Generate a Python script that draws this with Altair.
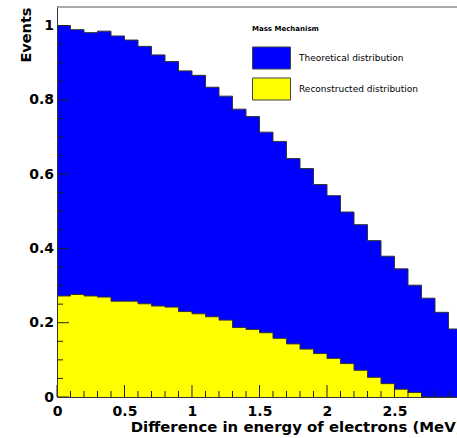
import altair as alt
import pandas as pd

# Bin left edges (MeV), bin width 0.1
bin_left = [0.0, 0.1, 0.2, 0.3, 0.4, 0.5, 0.6, 0.7, 0.8, 0.9,
            1.0, 1.1, 1.2, 1.3, 1.4, 1.5, 1.6, 1.7, 1.8, 1.9,
            2.0, 2.1, 2.2, 2.3, 2.4, 2.5, 2.6, 2.7, 2.8, 2.9]
bin_end = 3.0

theoretical = [1.000, 0.989, 0.981, 0.985, 0.972, 0.961, 0.944, 0.921, 0.903, 0.878,
               0.866, 0.834, 0.810, 0.775, 0.755, 0.713, 0.688, 0.642, 0.615, 0.572,
               0.542, 0.498, 0.464, 0.421, 0.379, 0.345, 0.301, 0.266, 0.228, 0.183]
reconstructed = [0.272, 0.276, 0.272, 0.269, 0.258, 0.258, 0.251, 0.245, 0.242, 0.230,
                 0.224, 0.216, 0.207, 0.187, 0.182, 0.173, 0.158, 0.143, 0.129, 0.117,
                 0.104, 0.090, 0.072, 0.053, 0.036, 0.021, 0.012, 0.0, 0.0, 0.0]

series_names = ["Theoretical distribution", "Reconstructed distribution"]
series_colors = ["#0000ff", "#ffff00"]

x_labels = [0, 0.5, 1, 1.5, 2, 2.5]
x_minor = [0.1, 0.2, 0.3, 0.4, 0.6, 0.7, 0.8, 0.9, 1.1, 1.2, 1.3, 1.4, 1.6, 1.7, 1.8, 1.9,
           2.1, 2.2, 2.3, 2.4, 2.6, 2.7, 2.8, 2.9]
y_labels = [0, 0.2, 0.4, 0.6, 0.8, 1.0]
y_minor = [0.05, 0.1, 0.15, 0.25, 0.3, 0.35, 0.45, 0.5, 0.55, 0.65, 0.7, 0.75, 0.85, 0.9, 0.95]

W, H = 400, 390
FONT = "DejaVu Sans"


def hist_df(vals, name):
    return pd.DataFrame({"x": bin_left + [bin_end], "v": vals + [vals[-1]], "series": name})


df_t = hist_df(theoretical, series_names[0])
df_r = hist_df(reconstructed, series_names[1])

xscale = alt.Scale(domain=[0, 2.963], nice=False, zero=False)
yscale = alt.Scale(domain=[0, 1.05], nice=False)
cscale = alt.Scale(domain=series_names, range=series_colors)

xaxis = alt.Axis(values=x_labels, format="~g", ticks=False, grid=False, labelFlush=False,
                 labelOverlap=False, labelFont=FONT, labelFontSize=14, labelFontWeight="bold",
                 labelColor="black", labelPadding=7.5, domainColor="#333", domainWidth=1,
                 title="Difference in energy of electrons (MeV)", titleFont=FONT,
                 titleFontSize=14.9, titleFontWeight="bold", titleColor="black",
                 titleX=405, titleY=34, titleAlign="right", titleBaseline="alphabetic",
                 zindex=1)
yaxis = alt.Axis(values=y_labels, format="~g", ticks=False, grid=False, labelOverlap=False,
                 labelFont=FONT, labelFontSize=14, labelFontWeight="bold", labelColor="black",
                 labelPadding=3.5, domainColor="#333", domainWidth=1,
                 title="Events", titleFont=FONT, titleFontSize=14.5, titleFontWeight="bold",
                 titleColor="black", titleAngle=270, titleX=-27, titleY=0, titleAlign="right",
                 titleBaseline="alphabetic", zindex=1)

legend = alt.Legend(title="Mass Mechanism", orient="none", legendX=195, legendY=18,
                    padding=0, titleFont=FONT, titleFontSize=7, titleFontWeight="bold",
                    titleColor="black", titlePadding=16, labelFont=FONT, labelFontSize=9,
                    labelColor="black", labelOffset=27, symbolType="M-1,-1.16H3V1.16H-1Z",
                    symbolSize=361, symbolStrokeColor="#444", symbolStrokeWidth=1,
                    symbolOpacity=1, rowPadding=3)

area_t = alt.Chart(df_t).mark_area(interpolate="step-after", opacity=1, clip=True).encode(
    x=alt.X("x:Q", scale=xscale, axis=xaxis),
    y=alt.Y("v:Q", scale=yscale, axis=yaxis),
    color=alt.Color("series:N", scale=cscale, legend=legend),
)
line_t = alt.Chart(df_t).mark_line(interpolate="step-after", color="#333", strokeWidth=1, clip=True).encode(
    x=alt.X("x:Q", scale=xscale),
    y=alt.Y("v:Q", scale=yscale),
)
area_r = alt.Chart(df_r).mark_area(interpolate="step-after", opacity=1, clip=True).encode(
    x=alt.X("x:Q", scale=xscale),
    y=alt.Y("v:Q", scale=yscale),
    color=alt.Color("series:N", scale=cscale, legend=legend),
)
line_r = alt.Chart(df_r).mark_line(interpolate="step-after", color="#333", strokeWidth=1, clip=True).encode(
    x=alt.X("x:Q", scale=xscale),
    y=alt.Y("v:Q", scale=yscale),
)

ytick_major = alt.Chart(pd.DataFrame({"t": y_labels})).mark_rule(color="#222", strokeWidth=1).encode(
    y=alt.Y("t:Q", scale=yscale), x=alt.value(0), x2=alt.value(12))
ytick_minor = alt.Chart(pd.DataFrame({"t": y_minor})).mark_rule(color="#222", strokeWidth=1).encode(
    y=alt.Y("t:Q", scale=yscale), x=alt.value(0), x2=alt.value(6))
xtick_major = alt.Chart(pd.DataFrame({"t": x_labels})).mark_rule(color="#222", strokeWidth=1).encode(
    x=alt.X("t:Q", scale=xscale), y=alt.value(H), y2=alt.value(H - 12))
xtick_minor = alt.Chart(pd.DataFrame({"t": x_minor})).mark_rule(color="#222", strokeWidth=1).encode(
    x=alt.X("t:Q", scale=xscale), y=alt.value(H), y2=alt.value(H - 6))
top_frame = alt.Chart(pd.DataFrame({"t": [0]})).mark_rule(color="#555", strokeWidth=1).encode(
    x=alt.value(0), x2=alt.value(W), y=alt.value(0))

chart = alt.layer(area_t, area_r, line_t, line_r, ytick_major, ytick_minor,
                  xtick_major, xtick_minor, top_frame).properties(
    width=W, height=H, autosize="none",
    padding={"left": 57, "top": 7, "right": 0, "bottom": 41},
    background="white",
).configure_view(stroke=None)

chart.save("out.html", embed_options={"renderer": "svg", "actions": False})
